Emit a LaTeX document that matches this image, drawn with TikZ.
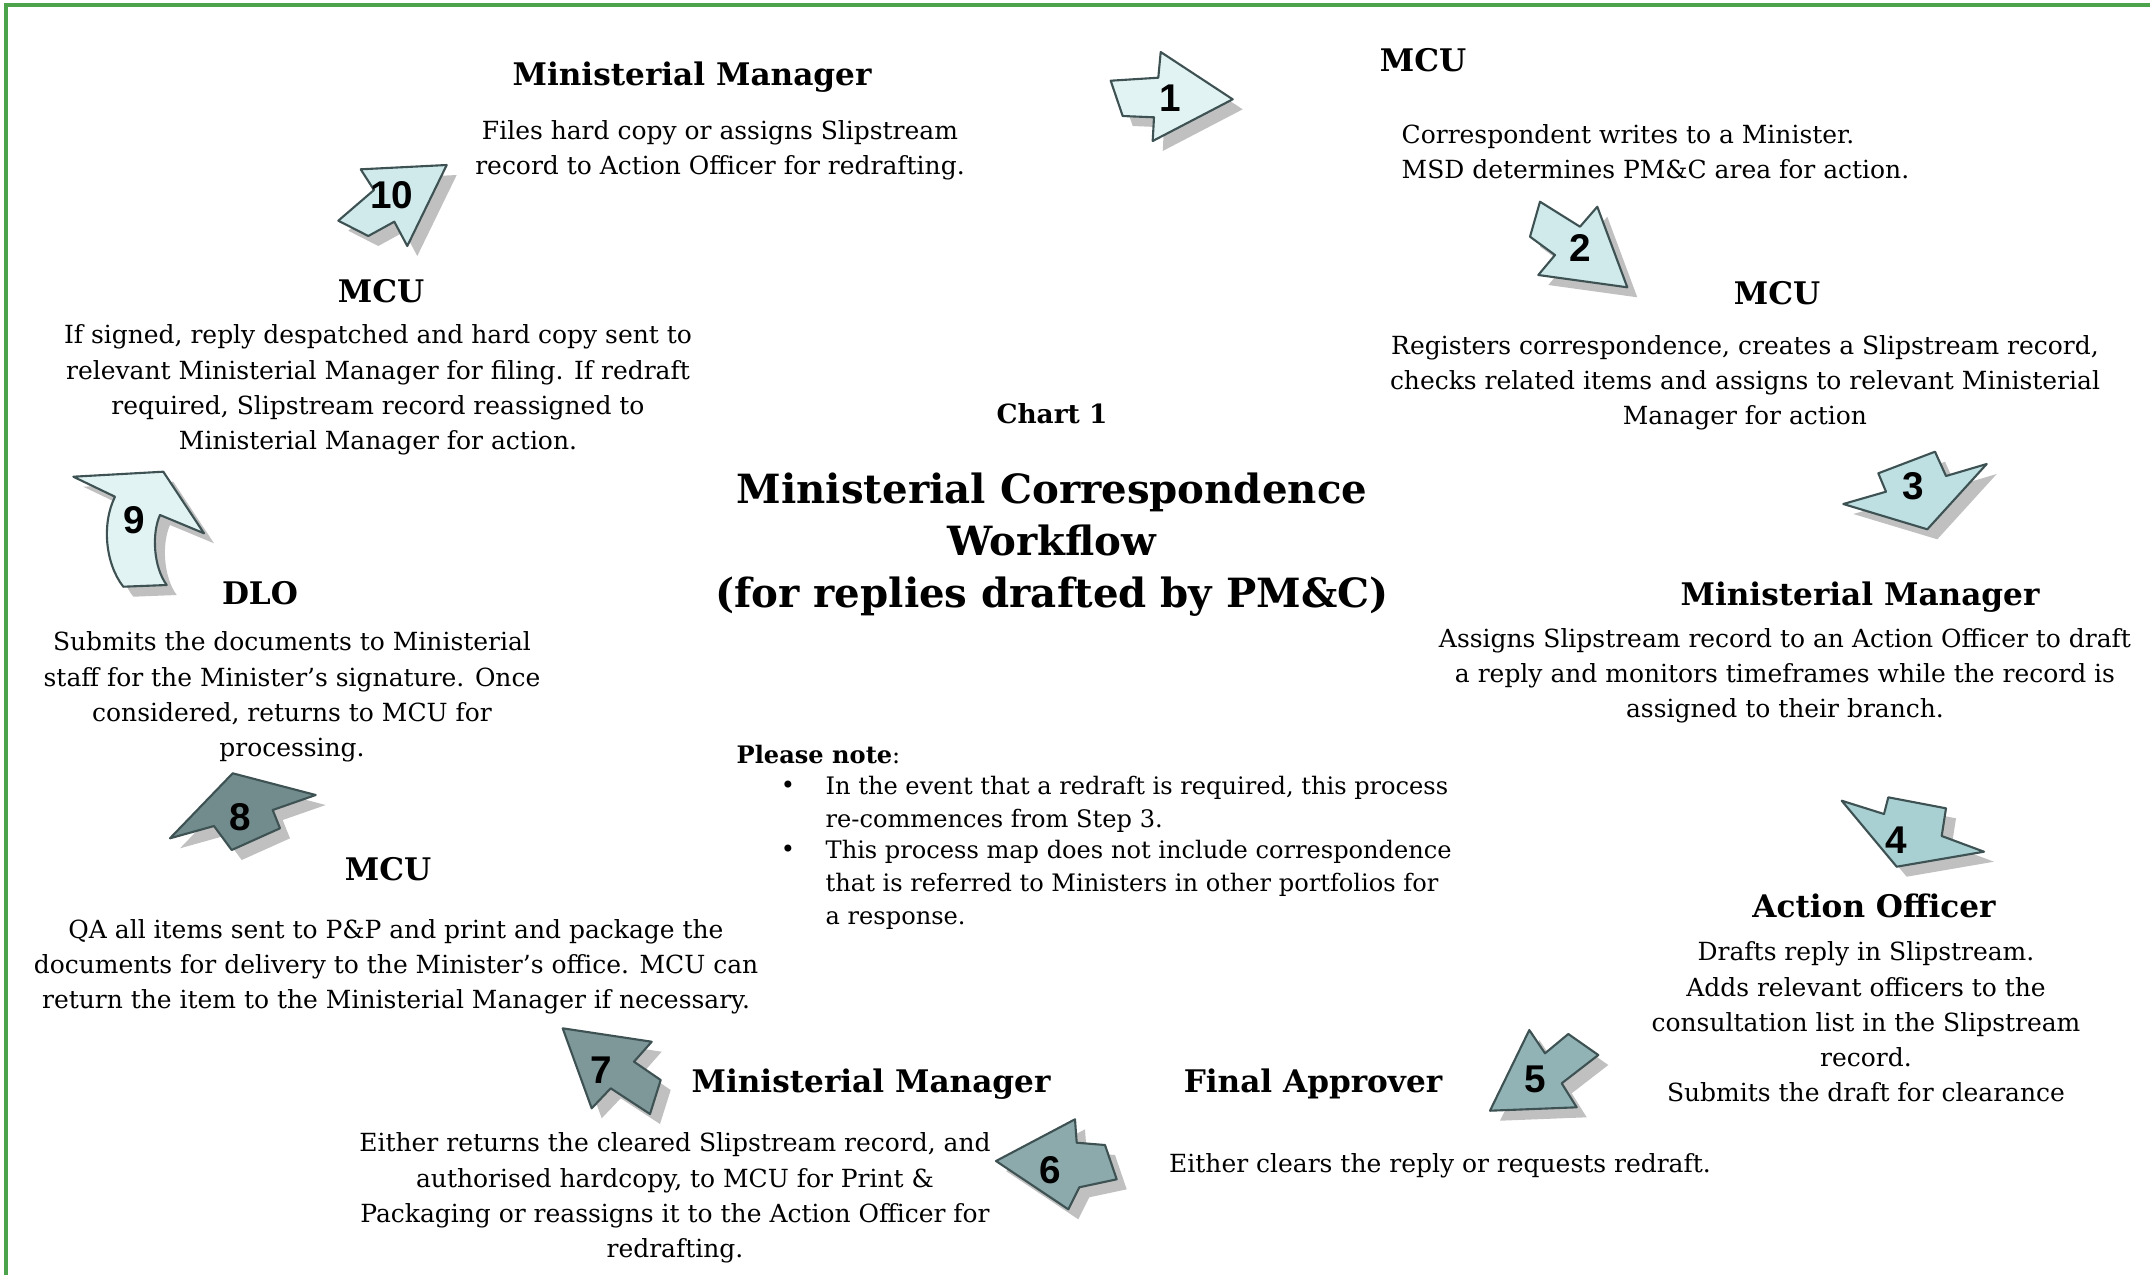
\documentclass[tikz,border=0pt]{standalone}
\usepackage{fontspec}
\setmainfont{DejaVu Serif}
\newfontfamily\numfont{Liberation Sans}
\usetikzlibrary{positioning, shadows}

\begin{document}
\begin{tikzpicture}[x=0.01cm, y=-0.01cm,
			heading/.style={font=\fontsize{8.85}{11}\selectfont\bfseries, inner sep=0pt},
			body/.style={font=\fontsize{7.1}{10}\selectfont, align=center, inner sep=0pt},
			note/.style={font=\fontsize{6.85}{9.4}\selectfont, align=left, inner sep=0pt},
			steparrow/.style={draw=arrowedge, line width=0.6pt, line join=round, fill=#1,
				drop shadow={shadow xshift=0.1cm, shadow yshift=-0.1cm, fill=shadowgray, opacity=1}},
			stepnum/.style={font=\fontsize{11}{11}\selectfont\numfont\bfseries, inner sep=0pt}
			]
			
			% Define colors
			\definecolor{frame}{RGB}{76,163,76}
			\definecolor{arrowedge}{RGB}{62,82,83}
			\definecolor{shadowgray}{RGB}{192,192,192}
			\definecolor{arrowA}{RGB}{226,243,244}
			\definecolor{arrowB}{RGB}{208,233,235}
			\definecolor{arrowC}{RGB}{190,224,227}
			\definecolor{arrowD}{RGB}{168,207,210}
			\definecolor{arrowE}{RGB}{146,179,181}
			\definecolor{arrowF}{RGB}{140,169,171}
			\definecolor{arrowG}{RGB}{126,152,153}
			\definecolor{arrowH}{RGB}{114,140,141}
			
			\useasboundingbox (0,0) rectangle (2150,1275);
			
			% 1. Frame (only top and left edge visible)
			\draw[frame, line width=1.1pt] (2200,5) -- (6,5) -- (6,1320);
			
			% 2. Numbered arrows
			\draw[steparrow=arrowA] (1110.7,80.7) -- (1158.3,77.7) -- (1160.7,52) -- (1232.7,99.3)
				-- (1152.7,141) -- (1154,117.3) -- (1122.7,116) -- cycle;
			\node[stepnum] (num1) at (1170,98) {1};
			
			\draw[steparrow=arrowB] (1540,201.7) -- (1580,226.7) -- (1597.3,206.7) -- (1627.3,287.3)
				-- (1538.3,275) -- (1555,255) -- (1530,236.7) -- cycle;
			\node[stepnum] (num2) at (1580,248.3) {2};
			
			\draw[steparrow=arrowC] (1878.3,473.3) -- (1935,451.7) -- (1946,476) -- (1986.7,464)
				-- (1927.3,529.3) -- (1843.3,504) -- (1886,491.7) -- cycle;
			\node[stepnum] (num3) at (1913.3,486.7) {3};
			
			\draw[steparrow=arrowD] (1841.7,800.7) -- (1884,814) -- (1888.3,797.3) -- (1946,808.3)
				-- (1941.7,836) -- (1984,851.7) -- (1896.7,866.7) -- cycle;
			\node[stepnum] (num4) at (1896,840) {4};
			
			\draw[steparrow=arrowE] (1529.3,1030) -- (1545,1053.3) -- (1568.3,1034) -- (1598.3,1055)
				-- (1561.7,1083.3) -- (1576.7,1107.3) -- (1490,1110.7) -- cycle;
			\node[stepnum] (num5) at (1535,1079.3) {5};
			
			\draw[steparrow=arrowF] (996,1161) -- (1075,1119.3) -- (1076.7,1142.7) -- (1105,1145)
				-- (1116.7,1179.3) -- (1079.3,1187.3) -- (1068.3,1209.3) -- cycle;
			\node[stepnum] (num6) at (1050,1170) {6};
			
			\draw[steparrow=arrowG] (562.7,1028.3) -- (651.7,1041.7) -- (634,1061.7) -- (660.7,1080)
				-- (650,1114) -- (610.7,1088.3) -- (591.7,1108.3) -- cycle;
			\node[stepnum] (num7) at (601.7,1070) {7};
			
			\draw[steparrow=arrowH] (232.7,773.3) -- (315.7,795) -- (272.7,810) -- (280,828.3)
				-- (231.7,850) -- (214,826) -- (170,838.3) -- cycle;
			\node[stepnum] (num8) at (240,816.7) {8};
			
			% curved one
			\draw[steparrow=arrowA] (73.3,476.7) -- (163.3,471.7) -- (204,533.3) -- (160,515)
				.. controls (151.7,533.3) and (153.3,566.7) .. (166.7,585) -- (123.3,586.7)
				.. controls (105,563.3) and (101.7,523.3) .. (115,496.7) -- cycle;
			\node[stepnum] (num9) at (134,520) {9};
			
			\draw[steparrow=arrowB] (360.7,169.3) -- (446.7,165) -- (407.3,246) -- (394.3,221.7)
				-- (368.3,236) -- (338.3,220.7) -- (374,190) -- cycle;
			\node[stepnum] (num10) at (391.7,195) {10};
			
			% 3. Step headings and descriptions
			\node[heading] (mm1) at (692,77) {Ministerial Manager};
			\node[body] (mm1txt) at (720,150) {Files hard copy or assigns Slipstream\\record to Action Officer for redrafting.};
			
			\node[heading] (mcu1) at (1423,60) {MCU};
			\node[body, align=left, anchor=west] (mcu1txt) at (1401,152) {Correspondent writes to a Minister.\\MSD determines PM\&C area for action.};
			
			\node[heading] (mcu2) at (1777,293) {MCU};
			\node[body] (mcu2txt) at (1745,383) {Registers correspondence, creates a Slipstream record,\\checks related items and assigns to relevant Ministerial\\Manager for action};
			
			\node[heading] (mm2) at (1860,597) {Ministerial Manager};
			\node[body] (mm2txt) at (1785,676) {Assigns Slipstream record to an Action Officer to draft\\a reply and monitors timeframes while the record is\\assigned to their branch.};
			
			\node[heading] (ao) at (1874,906) {Action Officer};
			\node[body] (aotxt) at (1866,1022) {Drafts reply in Slipstream.\\Adds relevant officers to the\\consultation list in the Slipstream\\record.\\Submits the draft for clearance};
			
			\node[heading] (fa) at (1313,1084) {Final Approver};
			\node[body] (fatxt) at (1440,1166) {Either clears the reply or requests redraft.};
			
			\node[heading] (mm3) at (871,1084) {Ministerial Manager};
			\node[body] (mm3txt) at (675,1198) {Either returns the cleared Slipstream record, and\\authorised hardcopy, to MCU for Print \&\\Packaging or reassigns it to the Action Officer for\\redrafting.};
			
			\node[heading] (mcu3) at (388,869) {MCU};
			\node[body] (mcu3txt) at (396,967) {QA all items sent to P\&P and print and package the\\documents for delivery to the Minister's office. MCU can\\return the item to the Ministerial Manager if necessary.};
			
			\node[heading] (dlo) at (260,593) {DLO};
			\node[body] (dlotxt) at (292,697) {Submits the documents to Ministerial\\staff for the Minister's signature. Once\\considered, returns to MCU for\\processing.};
			
			\node[heading] (mcu4) at (381,291) {MCU};
			\node[body] (mcu4txt) at (378,390) {If signed, reply despatched and hard copy sent to\\relevant Ministerial Manager for filing. If redraft\\required, Slipstream record reassigned to\\Ministerial Manager for action.};
			
			% 4. Title in the middle
			\node[font=\fontsize{7.5}{10}\selectfont\bfseries, inner sep=0pt] (chart) at (1052,414) {Chart 1};
			\node[font=\fontsize{11.45}{14.8}\selectfont\bfseries, align=center, inner sep=0pt] (title) at (1052,545)
				{Ministerial Correspondence\\Workflow\\(for replies drafted by PM\&C)};
			
			% 5. Note
			\node[note, anchor=west] (pnote) at (736,755) {\textbf{Please note}:};
			\node[note] (bul1) at (788,787) {\textbullet};
			\node[note, anchor=west] (item1) at (825,804) {In the event that a redraft is required, this process\\re-commences from Step 3.};
			\node[note] (bul2) at (788,851) {\textbullet};
			\node[note, anchor=west] (item2) at (825,885) {This process map does not include correspondence\\that is referred to Ministers in other portfolios for\\a response.};
			
		\end{tikzpicture}
\end{document}
